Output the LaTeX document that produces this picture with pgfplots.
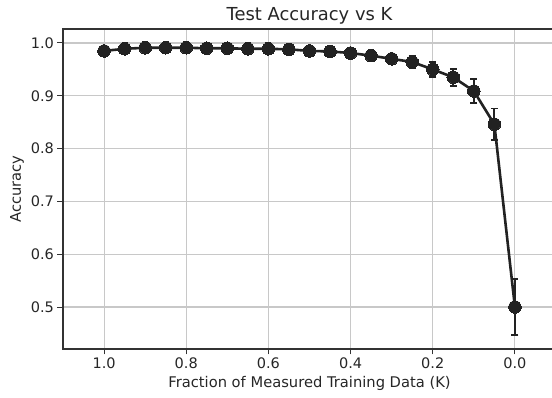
\documentclass[border=0pt]{standalone}
\usepackage{pgfplots}
\pgfplotsset{compat=1.18}
\usepackage{fontspec}
\setmainfont{DejaVu Sans}
\definecolor{txt}{HTML}{262626}
\definecolor{ln}{HTML}{222222}
\definecolor{grd}{HTML}{C8C8C8}
\definecolor{spn}{HTML}{333333}
\begin{document}
\begin{tikzpicture}
\begin{axis}[
  at={(0,0)}, anchor=south west,
  scale only axis, width=493pt, height=320pt,
  x dir=reverse,
  xmin=-0.1, xmax=1.1, ymin=0.4205, ymax=1.0265,
  xtick={0,0.2,0.4,0.6,0.8,1.0},
  ytick={0.5,0.6,0.7,0.8,0.9,1.0},
  xtick pos=bottom, ytick pos=left,
  tick align=outside,
  major tick length=5.5pt,
  every tick/.style={spn, line width=1pt},
  axis line style={spn, line width=1.1pt},
  grid=major,
  major grid style={grd, line width=1.1pt},
  /pgf/number format/assume math mode=true,
  xticklabel style={/pgf/number format/.cd, fixed, fixed zerofill, precision=1},
  yticklabel style={/pgf/number format/.cd, fixed, fixed zerofill, precision=1},
  ticklabel style={font=\fontsize{14.5}{16}\selectfont, text=txt},
  label style={font=\fontsize{14.7}{16}\selectfont, text=txt},
  xlabel={Fraction of Measured Training Data (K)},
  ylabel={Accuracy},
  title={Test Accuracy vs K},
  title style={font=\fontsize{17.9}{19}\selectfont, text=txt, at={(axis description cs:0.5,1)}, anchor=base, yshift=2.5pt},
]
\addplot[ln, line width=2.6pt, mark=*, mark size=6.3pt, mark options={fill=ln, draw=ln, line width=0pt},
  error bars/.cd, y dir=both, y explicit,
  error bar style={ln, line width=2.2pt},
  error mark options={rotate=90, mark size=3.5pt, line width=1.8pt, ln}]
table[x=x, y=y, y error=e] {
x y e
1.00 0.985 0.004
0.95 0.989 0.005
0.90 0.991 0.003
0.85 0.991 0.003
0.80 0.991 0.003
0.75 0.990 0.005
0.70 0.990 0.004
0.65 0.989 0.003
0.60 0.989 0.004
0.55 0.988 0.004
0.50 0.985 0.004
0.45 0.984 0.004
0.40 0.981 0.005
0.35 0.976 0.008
0.30 0.970 0.009
0.25 0.964 0.011
0.20 0.950 0.014
0.15 0.935 0.016
0.10 0.909 0.023
0.05 0.846 0.030
0.00 0.500 0.053
};
\end{axis}
\pgfresetboundingbox
\useasboundingbox (-63pt,-49pt) rectangle (489pt,349pt);
\end{tikzpicture}
\end{document}
